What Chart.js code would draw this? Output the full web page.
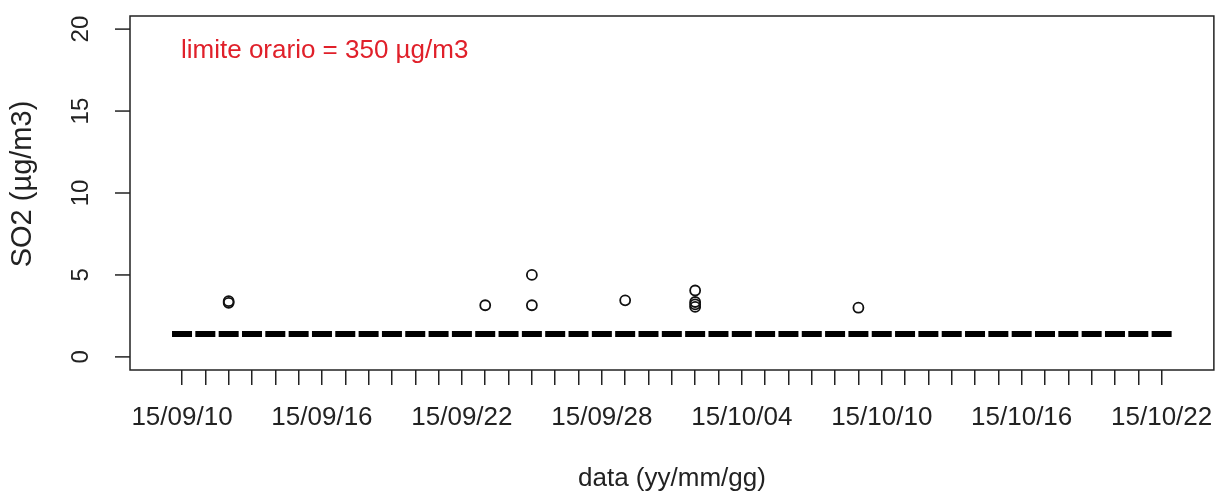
<!DOCTYPE html>
<html>
<head>
<meta charset="utf-8">
<script src="https://cdn.jsdelivr.net/npm/chart.js@4.4.1/dist/chart.umd.min.js"></script>
<style>
  body { margin: 0; background: #fff; }
  #wrap { width: 1230px; height: 497px; }
</style>
</head>
<body>
<div id="wrap"><canvas id="graph"></canvas></div>
<script>
// daily values (dash markers)
var baseDays = ['2015-09-10','2015-09-11','2015-09-12','2015-09-13','2015-09-14','2015-09-15','2015-09-16',
  '2015-09-17','2015-09-18','2015-09-19','2015-09-20','2015-09-21','2015-09-22','2015-09-23','2015-09-24',
  '2015-09-25','2015-09-26','2015-09-27','2015-09-28','2015-09-29','2015-09-30','2015-10-01','2015-10-02',
  '2015-10-03','2015-10-04','2015-10-05','2015-10-06','2015-10-07','2015-10-08','2015-10-09','2015-10-10',
  '2015-10-11','2015-10-12','2015-10-13','2015-10-14','2015-10-15','2015-10-16','2015-10-17','2015-10-18',
  '2015-10-19','2015-10-20','2015-10-21','2015-10-22'];
var baseValues = [1.4,1.4,1.4,1.4,1.4,1.4,1.4, 1.4,1.4,1.4,1.4,1.4,1.4,1.4,1.4, 1.4,1.4,1.4,1.4,1.4,1.4,1.4,1.4,
  1.4,1.4,1.4,1.4,1.4,1.4,1.4,1.4, 1.4,1.4,1.4,1.4,1.4,1.4,1.4,1.4, 1.4,1.4,1.4,1.4];

// single measurements (circles)
var peakDays = ['2015-09-12','2015-09-12','2015-09-23','2015-09-25','2015-09-25','2015-09-29',
  '2015-10-02','2015-10-02','2015-10-02','2015-10-02','2015-10-09'];
var peakValues = [3.3, 3.4, 3.15, 5.0, 3.15, 3.45, 4.05, 3.35, 3.2, 3.05, 3.0];

var xTickLabels = ['15/09/10','15/09/16','15/09/22','15/09/28','15/10/04','15/10/10','15/10/16','15/10/22'];
var yTicks = [0, 5, 10, 15, 20];

var FONT = '"Liberation Sans", Arial, sans-serif';
var INK = '#222';

function dayNum(s) {
  return (Date.parse(s + 'T00:00:00Z') - Date.parse('2015-09-10T00:00:00Z')) / 86400000;
}

var basePts = baseDays.map(function (d, i) { return { x: dayNum(d), y: baseValues[i] }; });
var peakPts = peakDays.map(function (d, i) { return { x: dayNum(d), y: peakValues[i] }; });

// R-style box, rotated y labels, titles and note
const decor = {
  id: 'decor',
  afterDraw(chart) {
    const ctx = chart.ctx, a = chart.chartArea, y = chart.scales.y;
    ctx.save();
    ctx.strokeStyle = INK;
    ctx.lineWidth = 1.5;
    ctx.strokeRect(a.left, a.top, a.right - a.left, a.bottom - a.top);

    ctx.fillStyle = INK;
    ctx.textAlign = 'center';
    ctx.textBaseline = 'middle';
    ctx.font = '24px ' + FONT;
    yTicks.forEach(function (v) {
      const py = y.getPixelForValue(v);
      ctx.beginPath();
      ctx.moveTo(a.left - 15, py);
      ctx.lineTo(a.left, py);
      ctx.stroke();
      ctx.save();
      ctx.translate(81, py);
      ctx.rotate(-Math.PI / 2);
      ctx.fillText(String(v), 0, 0);
      ctx.restore();
    });

    // y title
    ctx.font = '29px ' + FONT;
    ctx.save();
    ctx.translate(23, 184);
    ctx.rotate(-Math.PI / 2);
    ctx.fillText('SO2 (\u00b5g/m3)', 0, 0);
    ctx.restore();

    // x title
    ctx.font = '26px ' + FONT;
    ctx.fillText('data (yy/mm/gg)', (a.left + a.right) / 2, 479);

    // note
    ctx.fillStyle = '#e0202a';
    ctx.textAlign = 'left';
    ctx.textBaseline = 'alphabetic';
    ctx.fillText('limite orario = 350 \u00b5g/m3', 181, 58);
    ctx.restore();
  }
};

const config = {
  type: 'scatter',
  data: {
    datasets: [
      {
        label: 'giornaliero',
        data: basePts,
        pointStyle: 'line',
        pointRadius: 10,
        pointBorderWidth: 6,
        borderColor: '#000',
        backgroundColor: '#000',
        showLine: false
      },
      {
        label: 'orario',
        data: peakPts,
        pointStyle: 'circle',
        pointRadius: 5,
        pointBorderWidth: 1.8,
        borderColor: '#111',
        backgroundColor: 'rgba(0,0,0,0)',
        showLine: false
      }
    ]
  },
  options: {
    responsive: true,
    maintainAspectRatio: false,
    animation: false,
    devicePixelRatio: 1,
    layout: { padding: { top: 14, right: 9, left: 0, bottom: 0 } },
    plugins: {
      legend: { display: false },
      tooltip: { enabled: false }
    },
    scales: {
      x: {
        type: 'linear',
        min: -2.23,
        max: 44.24,
        border: { display: false },
        grid: {
          drawOnChartArea: false,
          drawTicks: true,
          tickLength: 15,
          color: INK,
          lineWidth: 1.5
        },
        afterBuildTicks: function (scale) {
          var t = [];
          for (var d = 0; d <= 42; d++) t.push({ value: d });
          scale.ticks = t;
        },
        ticks: {
          autoSkip: false,
          maxRotation: 0,
          minRotation: 0,
          padding: 17,
          color: INK,
          font: { family: FONT, size: 26 },
          callback: function (v) {
            return v % 6 === 0 ? xTickLabels[v / 6] : '';
          }
        },
        afterFit: function (scale) { scale.height = 127; }
      },
      y: {
        min: -0.8,
        max: 20.8,
        border: { display: false },
        grid: { display: false },
        ticks: { display: false },
        afterFit: function (scale) { scale.width = 130; }
      }
    }
  },
  plugins: [decor]
};

var myChart = new Chart(document.getElementById('graph'), config);
</script>
</body>
</html>
